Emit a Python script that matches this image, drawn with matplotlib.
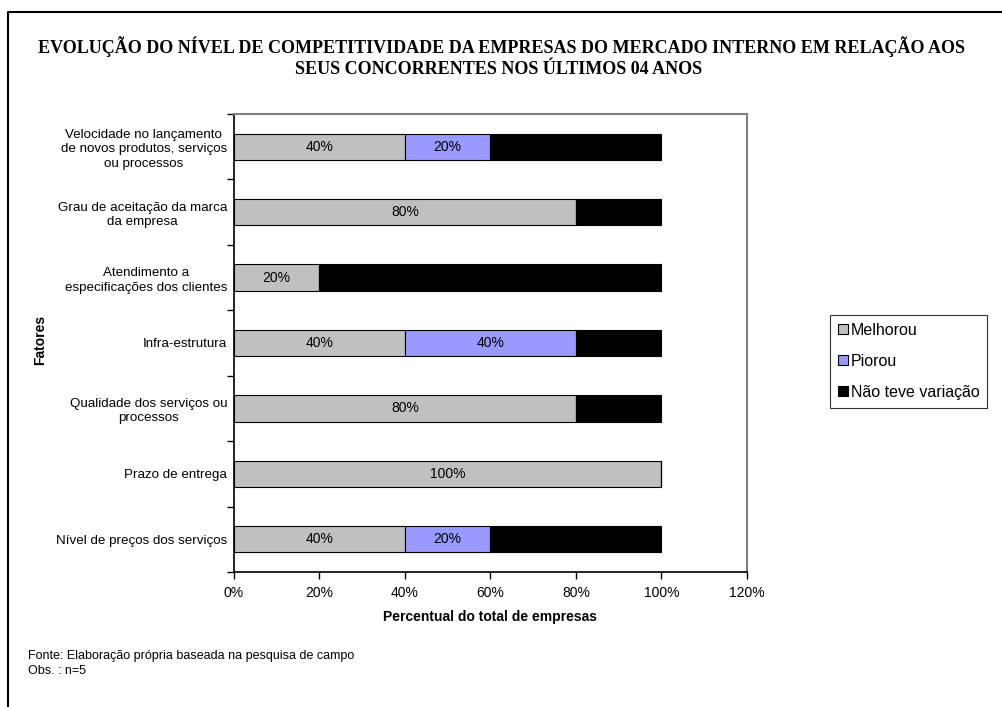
import matplotlib
matplotlib.use("Agg")
import matplotlib.pyplot as plt
from matplotlib.lines import Line2D
from matplotlib.patches import Rectangle
from matplotlib.ticker import FixedLocator, FuncFormatter
import numpy as np

# Survey results (% of companies), top to bottom as displayed
categorias = [
    "Velocidade no lançamento\nde novos produtos, serviços\nou processos",
    "Grau de aceitação da marca\nda empresa",
    "Atendimento a\nespecificações dos clientes",
    "Infra-estrutura",
    "Qualidade dos serviços ou\nprocessos",
    "Prazo de entrega",
    "Nível de preços dos serviços",
]
melhorou = [40, 80, 20, 40, 80, 100, 40]
piorou = [20, 0, 0, 40, 0, 0, 20]
sem_variacao = [40, 20, 80, 20, 20, 0, 40]
series_nomes = ["Melhorou", "Piorou", "Não teve variação"]
series_cores = ["#C0C0C0", "#9999FF", "#000000"]
x_ticks = [0, 20, 40, 60, 80, 100, 120]

plt.rcParams["font.family"] = ["Liberation Sans", "DejaVu Sans"]

W, H = 1003, 707
fig = plt.figure(figsize=(W / 100, H / 100), dpi=100)
fig.patch.set_facecolor("white")

def fx(px):
    return px / W

def fy(py):
    return 1 - py / H

ax = fig.add_axes([fx(234), fy(572), fx(747) - fx(234), fy(114) - fy(572)])

n = len(categorias)
y = np.arange(n)
bar_h = 0.4
valores = [melhorou, piorou, sem_variacao]
left = np.zeros(n)
for nome, cor, vals in zip(series_nomes, series_cores, valores):
    vals = np.array(vals, dtype=float)
    bars = ax.barh(y, vals, left=left, height=bar_h, color=cor,
                   edgecolor="black", linewidth=0.8, label=nome)
    if cor != "#000000":
        for b, v, l in zip(bars, vals, left):
            if v > 0:
                ax.text(l + v / 2, b.get_y() + b.get_height() / 2, f"{v:.0f}%",
                        ha="center", va="center", fontsize=10, color="black")
    left = left + vals

ax.set_xlim(0, 120)
ax.set_ylim(n - 0.5, -0.5)
ax.xaxis.set_major_locator(FixedLocator(x_ticks))
ax.xaxis.set_major_formatter(FuncFormatter(lambda v, p: f"{v:.0f}%"))
ax.tick_params(axis="x", direction="out", length=5, width=1, labelsize=10,
               pad=5, colors="black")

ax.set_yticks(y)
ax.set_yticklabels(categorias, fontsize=9.6, multialignment="center",
                   linespacing=1.28)
ax.yaxis.set_minor_locator(FixedLocator(np.arange(-0.5, n, 1.0)))
ax.tick_params(axis="y", which="major", length=0, pad=5)
ax.tick_params(axis="y", which="minor", direction="out", length=5, width=1)

for side in ["top", "right"]:
    ax.spines[side].set_color("#808080")
    ax.spines[side].set_linewidth(1.5)
for side in ["left", "bottom"]:
    ax.spines[side].set_color("black")
    ax.spines[side].set_linewidth(1.2)

ax.set_xlabel("Percentual do total de empresas", fontsize=10, fontweight="bold",
              labelpad=7)
fig.text(fx(40), fy(340), "Fatores", rotation=90, ha="center", va="center",
         fontsize=10, fontweight="bold")

# Title
titulo_font = dict(family=["Liberation Serif", "DejaVu Serif"], fontweight="bold",
                   fontsize=13)
fig.text(0.5, fy(47), "EVOLUÇÃO DO NÍVEL DE COMPETITIVIDADE DA EMPRESAS DO MERCADO "
         "INTERNO EM RELAÇÃO AOS", ha="center", va="center", **titulo_font)
fig.text(0.497, fy(70), "SEUS CONCORRENTES NOS ÚLTIMOS 04 ANOS", ha="center",
         va="center", **titulo_font)

# Legend
handles = [Rectangle((0, 0), 1, 1, facecolor=c, edgecolor="black", linewidth=0.8)
           for c in series_cores]
leg = fig.legend(handles, series_nomes, loc="upper left",
                 bbox_to_anchor=(fx(830), fy(315)), fontsize=11.5,
                 frameon=True, fancybox=False, edgecolor="black",
                 handlelength=0.6, handleheight=0.6, handletextpad=0.2,
                 labelspacing=1.0, borderpad=0.5, borderaxespad=0)
leg.get_frame().set_linewidth(0.8)

# Footnotes
fig.text(fx(28), fy(656), "Fonte: Elaboração própria baseada na pesquisa de campo",
         ha="left", va="center", fontsize=9)
fig.text(fx(28), fy(671), "Obs. : n=5", ha="left", va="center", fontsize=9)

# Outer frame (left and top edges)
fig.add_artist(Line2D([fx(8), fx(8), 1.0], [0.0, fy(12), fy(12)],
                      transform=fig.transFigure, color="black", linewidth=1.5))

fig.savefig("out.png", dpi=100, facecolor="white")
